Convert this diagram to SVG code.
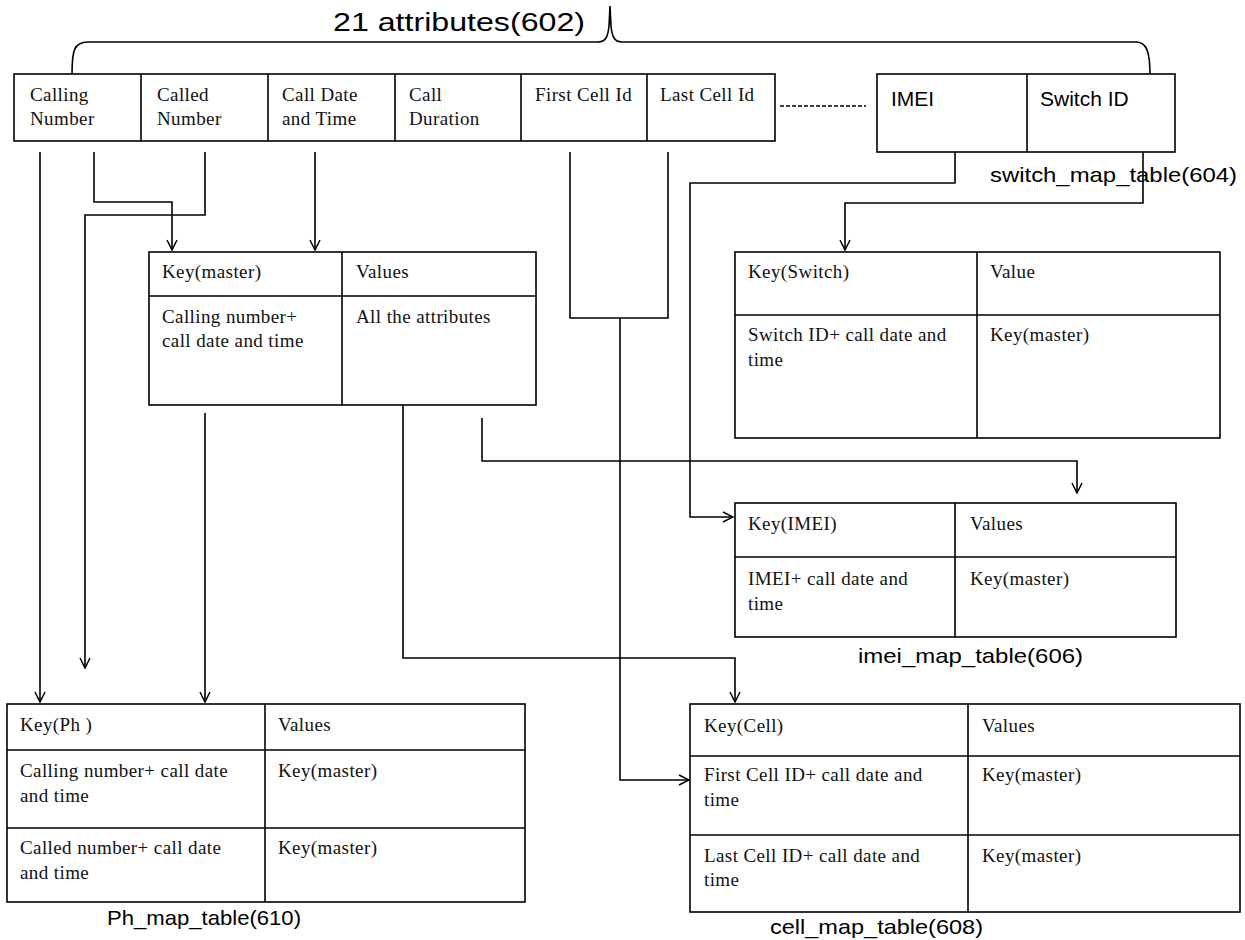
<svg xmlns="http://www.w3.org/2000/svg" width="1245" height="940" viewBox="0 0 1245 940">
<style>
.bx{fill:#fff;stroke:#000;stroke-width:1.6}
.ln{fill:none;stroke:#000;stroke-width:1.6}
.t{font-family:"Liberation Serif","Times New Roman",serif;font-size:19px;letter-spacing:0.4px;fill:#111}
.s{font-family:"Liberation Sans",Arial,sans-serif;fill:#000}
</style>
<defs>
<marker id="ah" viewBox="0 0 12 12" refX="11" refY="6" markerWidth="12" markerHeight="12" markerUnits="userSpaceOnUse" orient="auto">
<path d="M1,1 L11,6 L1,11" fill="none" stroke="#000" stroke-width="1.5"/>
</marker>
</defs>
<rect width="1245" height="940" fill="#fff"/>

<g id="brace">
<path class="ln" d="M72,75 C72,50 74,42 88,42 L598,42 C606,42 608,36 609,26 L610,6 L611,26 C612,36 614,42 622,42 L1136,42 C1146,42 1150,50 1150,75"/>
<text class="s" x="459" y="31" font-size="26" text-anchor="middle" textLength="252" lengthAdjust="spacingAndGlyphs">21 attributes(602)</text>
</g>

<g id="attributes">
<rect class="bx" x="14" y="74" width="761" height="67"/>
<path class="ln" d="M141,74V141M268,74V141M395,74V141M521,74V141M647,74V141"/>
<text class="t" x="30" y="101">Calling</text><text class="t" x="30" y="125">Number</text>
<text class="t" x="157" y="101">Called</text><text class="t" x="157" y="125">Number</text>
<text class="t" x="282" y="101">Call Date</text><text class="t" x="282" y="125">and Time</text>
<text class="t" x="409" y="101">Call</text><text class="t" x="409" y="125">Duration</text>
<text class="t" x="535" y="101">First Cell Id</text>
<text class="t" x="660" y="101">Last Cell Id</text>
</g>

<g id="switch_map">
<rect class="bx" x="877" y="74" width="298" height="78"/>
<path class="ln" d="M1027,74V152"/>
<text class="s" x="891" y="106" font-size="21">IMEI</text>
<text class="s" x="1040" y="106" font-size="21">Switch ID</text>
<text class="s" x="990" y="182" font-size="21" textLength="247" lengthAdjust="spacingAndGlyphs">switch_map_table(604)</text>
</g>

<g id="master">
<rect class="bx" x="149" y="252" width="387" height="153"/>
<path class="ln" d="M149,296H536M342,252V405"/>
<text class="t" x="162" y="278">Key(master)</text>
<text class="t" x="356" y="278">Values</text>
<text class="t" x="162" y="323">Calling number+</text>
<text class="t" x="162" y="347">call date and time</text>
<text class="t" x="356" y="323">All the attributes</text>
</g>

<g id="switch_table">
<rect class="bx" x="735" y="252" width="485" height="186"/>
<path class="ln" d="M735,315H1220M977,252V438"/>
<text class="t" x="748" y="278">Key(Switch)</text>
<text class="t" x="990" y="278">Value</text>
<text class="t" x="748" y="341">Switch ID+ call date and</text>
<text class="t" x="748" y="366">time</text>
<text class="t" x="990" y="341">Key(master)</text>
</g>

<g id="imei_table">
<rect class="bx" x="735" y="503" width="441" height="134"/>
<path class="ln" d="M735,557H1176M955,503V637"/>
<text class="t" x="748" y="530">Key(IMEI)</text>
<text class="t" x="970" y="530">Values</text>
<text class="t" x="748" y="585">IMEI+ call date and</text>
<text class="t" x="748" y="610">time</text>
<text class="t" x="970" y="585">Key(master)</text>
<text class="s" x="858" y="663" font-size="21" textLength="225" lengthAdjust="spacingAndGlyphs">imei_map_table(606)</text>
</g>

<g id="cell_table">
<rect class="bx" x="690" y="704" width="550" height="208"/>
<path class="ln" d="M690,756H1240M690,835H1240M968,704V912"/>
<text class="t" x="704" y="732">Key(Cell)</text>
<text class="t" x="982" y="732">Values</text>
<text class="t" x="704" y="781">First Cell ID+ call date and</text>
<text class="t" x="704" y="806">time</text>
<text class="t" x="982" y="781">Key(master)</text>
<text class="t" x="704" y="862">Last Cell ID+ call date and</text>
<text class="t" x="704" y="886">time</text>
<text class="t" x="982" y="862">Key(master)</text>
<text class="s" x="770" y="934" font-size="21" textLength="213" lengthAdjust="spacingAndGlyphs">cell_map_table(608)</text>
</g>

<g id="ph_table">
<rect class="bx" x="7" y="704" width="518" height="198"/>
<path class="ln" d="M7,750H525M7,828H525M265,704V902"/>
<text class="t" x="20" y="731">Key(Ph )</text>
<text class="t" x="278" y="731">Values</text>
<text class="t" x="20" y="777">Calling number+ call date</text>
<text class="t" x="20" y="802">and time</text>
<text class="t" x="278" y="777">Key(master)</text>
<text class="t" x="20" y="854">Called number+ call date</text>
<text class="t" x="20" y="879">and time</text>
<text class="t" x="278" y="854">Key(master)</text>
<text class="s" x="107" y="925" font-size="21" textLength="194" lengthAdjust="spacingAndGlyphs">Ph_map_table(610)</text>
</g>

<g id="connectors">
<path class="ln" d="M780,106H866" stroke-dasharray="4,2"/>
<path class="ln" d="M40,152V702" marker-end="url(#ah)"/>
<path class="ln" d="M94,152V202H172V250" marker-end="url(#ah)"/>
<path class="ln" d="M205,152V215H85V668" marker-end="url(#ah)"/>
<path class="ln" d="M315,152V250" marker-end="url(#ah)"/>
<path class="ln" d="M570,152V318H668V152"/>
<path class="ln" d="M620,318V780H689" marker-end="url(#ah)"/>
<path class="ln" d="M955,152V183H690V517H733" marker-end="url(#ah)"/>
<path class="ln" d="M1143,152V203H845V250" marker-end="url(#ah)"/>
<path class="ln" d="M205,413V702" marker-end="url(#ah)"/>
<path class="ln" d="M403,405V658H735V702" marker-end="url(#ah)"/>
<path class="ln" d="M482,418V461H1077V493" marker-end="url(#ah)"/>
</g>
</svg>
